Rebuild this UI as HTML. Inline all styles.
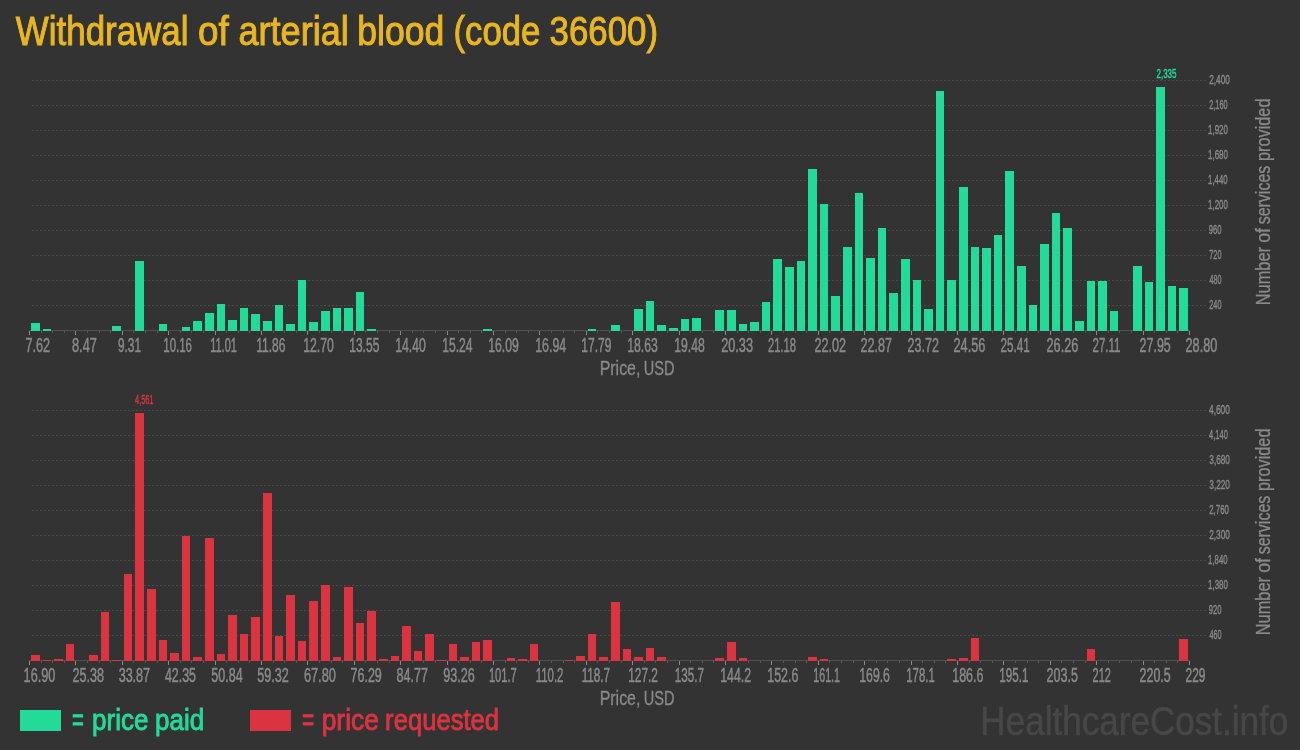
<!DOCTYPE html>
<html><head><meta charset="utf-8"><style>
html,body{margin:0;padding:0;background:#333333;}
body{width:1300px;height:750px;overflow:hidden;}
svg{display:block;will-change:transform;font-family:"Liberation Sans",sans-serif;}
</style></head><body>
<svg width="1300" height="750" viewBox="0 0 1300 750">
<rect width="1300" height="750" fill="#333333"/>
<text transform="translate(15.86,44.8) scale(0.8730,1)" font-size="40" fill="#e9b61f" stroke="#e9b61f" stroke-width="1.0">Withdrawal</text>
<text transform="translate(198.09,44.8) scale(0.9177,1)" font-size="40" fill="#e9b61f" stroke="#e9b61f" stroke-width="1.0">of</text>
<text transform="translate(238.51,44.8) scale(0.9017,1)" font-size="40" fill="#e9b61f" stroke="#e9b61f" stroke-width="1.0">arterial</text>
<text transform="translate(357.23,44.8) scale(0.8889,1)" font-size="40" fill="#e9b61f" stroke="#e9b61f" stroke-width="1.0">blood</text>
<text transform="translate(453.55,44.8) scale(0.8667,1)" font-size="40" fill="#e9b61f" stroke="#e9b61f" stroke-width="1.0">(code</text>
<text transform="translate(549.54,44.8) scale(0.8715,1)" font-size="40" fill="#e9b61f" stroke="#e9b61f" stroke-width="1.0">36600)</text>
<line x1="32" y1="80.5" x2="1206" y2="80.5" stroke="#4a4a4a" stroke-dasharray="2,2"/>
<line x1="32" y1="105.5" x2="1206" y2="105.5" stroke="#4a4a4a" stroke-dasharray="2,2"/>
<line x1="32" y1="130.5" x2="1206" y2="130.5" stroke="#4a4a4a" stroke-dasharray="2,2"/>
<line x1="32" y1="155.5" x2="1206" y2="155.5" stroke="#4a4a4a" stroke-dasharray="2,2"/>
<line x1="32" y1="180.5" x2="1206" y2="180.5" stroke="#4a4a4a" stroke-dasharray="2,2"/>
<line x1="32" y1="205.5" x2="1206" y2="205.5" stroke="#4a4a4a" stroke-dasharray="2,2"/>
<line x1="32" y1="230.5" x2="1206" y2="230.5" stroke="#4a4a4a" stroke-dasharray="2,2"/>
<line x1="32" y1="255.5" x2="1206" y2="255.5" stroke="#4a4a4a" stroke-dasharray="2,2"/>
<line x1="32" y1="280.5" x2="1206" y2="280.5" stroke="#4a4a4a" stroke-dasharray="2,2"/>
<line x1="32" y1="305.5" x2="1206" y2="305.5" stroke="#4a4a4a" stroke-dasharray="2,2"/>
<rect x="29" y="330" width="1161" height="1" fill="#505050"/>
<rect x="29" y="331" width="1" height="4" fill="#8a8a8a"/>
<rect x="41" y="331" width="1" height="2" fill="#5a5a5a"/>
<rect x="52" y="331" width="1" height="2" fill="#5a5a5a"/>
<rect x="64" y="331" width="1" height="2" fill="#5a5a5a"/>
<rect x="75" y="331" width="1" height="4" fill="#8a8a8a"/>
<rect x="87" y="331" width="1" height="2" fill="#5a5a5a"/>
<rect x="99" y="331" width="1" height="2" fill="#5a5a5a"/>
<rect x="110" y="331" width="1" height="2" fill="#5a5a5a"/>
<rect x="122" y="331" width="1" height="4" fill="#8a8a8a"/>
<rect x="133" y="331" width="1" height="2" fill="#5a5a5a"/>
<rect x="145" y="331" width="1" height="2" fill="#5a5a5a"/>
<rect x="157" y="331" width="1" height="2" fill="#5a5a5a"/>
<rect x="168" y="331" width="1" height="4" fill="#8a8a8a"/>
<rect x="180" y="331" width="1" height="2" fill="#5a5a5a"/>
<rect x="191" y="331" width="1" height="2" fill="#5a5a5a"/>
<rect x="203" y="331" width="1" height="2" fill="#5a5a5a"/>
<rect x="215" y="331" width="1" height="4" fill="#8a8a8a"/>
<rect x="226" y="331" width="1" height="2" fill="#5a5a5a"/>
<rect x="238" y="331" width="1" height="2" fill="#5a5a5a"/>
<rect x="249" y="331" width="1" height="2" fill="#5a5a5a"/>
<rect x="261" y="331" width="1" height="4" fill="#8a8a8a"/>
<rect x="273" y="331" width="1" height="2" fill="#5a5a5a"/>
<rect x="284" y="331" width="1" height="2" fill="#5a5a5a"/>
<rect x="296" y="331" width="1" height="2" fill="#5a5a5a"/>
<rect x="307" y="331" width="1" height="4" fill="#8a8a8a"/>
<rect x="319" y="331" width="1" height="2" fill="#5a5a5a"/>
<rect x="331" y="331" width="1" height="2" fill="#5a5a5a"/>
<rect x="342" y="331" width="1" height="2" fill="#5a5a5a"/>
<rect x="354" y="331" width="1" height="4" fill="#8a8a8a"/>
<rect x="365" y="331" width="1" height="2" fill="#5a5a5a"/>
<rect x="377" y="331" width="1" height="2" fill="#5a5a5a"/>
<rect x="389" y="331" width="1" height="2" fill="#5a5a5a"/>
<rect x="400" y="331" width="1" height="4" fill="#8a8a8a"/>
<rect x="412" y="331" width="1" height="2" fill="#5a5a5a"/>
<rect x="423" y="331" width="1" height="2" fill="#5a5a5a"/>
<rect x="435" y="331" width="1" height="2" fill="#5a5a5a"/>
<rect x="447" y="331" width="1" height="4" fill="#8a8a8a"/>
<rect x="458" y="331" width="1" height="2" fill="#5a5a5a"/>
<rect x="470" y="331" width="1" height="2" fill="#5a5a5a"/>
<rect x="481" y="331" width="1" height="2" fill="#5a5a5a"/>
<rect x="493" y="331" width="1" height="4" fill="#8a8a8a"/>
<rect x="505" y="331" width="1" height="2" fill="#5a5a5a"/>
<rect x="516" y="331" width="1" height="2" fill="#5a5a5a"/>
<rect x="528" y="331" width="1" height="2" fill="#5a5a5a"/>
<rect x="539" y="331" width="1" height="4" fill="#8a8a8a"/>
<rect x="551" y="331" width="1" height="2" fill="#5a5a5a"/>
<rect x="563" y="331" width="1" height="2" fill="#5a5a5a"/>
<rect x="574" y="331" width="1" height="2" fill="#5a5a5a"/>
<rect x="586" y="331" width="1" height="4" fill="#8a8a8a"/>
<rect x="597" y="331" width="1" height="2" fill="#5a5a5a"/>
<rect x="609" y="331" width="1" height="2" fill="#5a5a5a"/>
<rect x="621" y="331" width="1" height="2" fill="#5a5a5a"/>
<rect x="632" y="331" width="1" height="4" fill="#8a8a8a"/>
<rect x="644" y="331" width="1" height="2" fill="#5a5a5a"/>
<rect x="655" y="331" width="1" height="2" fill="#5a5a5a"/>
<rect x="667" y="331" width="1" height="2" fill="#5a5a5a"/>
<rect x="679" y="331" width="1" height="4" fill="#8a8a8a"/>
<rect x="690" y="331" width="1" height="2" fill="#5a5a5a"/>
<rect x="702" y="331" width="1" height="2" fill="#5a5a5a"/>
<rect x="713" y="331" width="1" height="2" fill="#5a5a5a"/>
<rect x="725" y="331" width="1" height="4" fill="#8a8a8a"/>
<rect x="737" y="331" width="1" height="2" fill="#5a5a5a"/>
<rect x="748" y="331" width="1" height="2" fill="#5a5a5a"/>
<rect x="760" y="331" width="1" height="2" fill="#5a5a5a"/>
<rect x="771" y="331" width="1" height="4" fill="#8a8a8a"/>
<rect x="783" y="331" width="1" height="2" fill="#5a5a5a"/>
<rect x="795" y="331" width="1" height="2" fill="#5a5a5a"/>
<rect x="806" y="331" width="1" height="2" fill="#5a5a5a"/>
<rect x="818" y="331" width="1" height="4" fill="#8a8a8a"/>
<rect x="829" y="331" width="1" height="2" fill="#5a5a5a"/>
<rect x="841" y="331" width="1" height="2" fill="#5a5a5a"/>
<rect x="853" y="331" width="1" height="2" fill="#5a5a5a"/>
<rect x="864" y="331" width="1" height="4" fill="#8a8a8a"/>
<rect x="876" y="331" width="1" height="2" fill="#5a5a5a"/>
<rect x="887" y="331" width="1" height="2" fill="#5a5a5a"/>
<rect x="899" y="331" width="1" height="2" fill="#5a5a5a"/>
<rect x="911" y="331" width="1" height="4" fill="#8a8a8a"/>
<rect x="922" y="331" width="1" height="2" fill="#5a5a5a"/>
<rect x="934" y="331" width="1" height="2" fill="#5a5a5a"/>
<rect x="945" y="331" width="1" height="2" fill="#5a5a5a"/>
<rect x="957" y="331" width="1" height="4" fill="#8a8a8a"/>
<rect x="969" y="331" width="1" height="2" fill="#5a5a5a"/>
<rect x="980" y="331" width="1" height="2" fill="#5a5a5a"/>
<rect x="992" y="331" width="1" height="2" fill="#5a5a5a"/>
<rect x="1003" y="331" width="1" height="4" fill="#8a8a8a"/>
<rect x="1015" y="331" width="1" height="2" fill="#5a5a5a"/>
<rect x="1027" y="331" width="1" height="2" fill="#5a5a5a"/>
<rect x="1038" y="331" width="1" height="2" fill="#5a5a5a"/>
<rect x="1050" y="331" width="1" height="4" fill="#8a8a8a"/>
<rect x="1061" y="331" width="1" height="2" fill="#5a5a5a"/>
<rect x="1073" y="331" width="1" height="2" fill="#5a5a5a"/>
<rect x="1085" y="331" width="1" height="2" fill="#5a5a5a"/>
<rect x="1096" y="331" width="1" height="4" fill="#8a8a8a"/>
<rect x="1108" y="331" width="1" height="2" fill="#5a5a5a"/>
<rect x="1119" y="331" width="1" height="2" fill="#5a5a5a"/>
<rect x="1131" y="331" width="1" height="2" fill="#5a5a5a"/>
<rect x="1143" y="331" width="1" height="4" fill="#8a8a8a"/>
<rect x="1154" y="331" width="1" height="2" fill="#5a5a5a"/>
<rect x="1166" y="331" width="1" height="2" fill="#5a5a5a"/>
<rect x="1177" y="331" width="1" height="2" fill="#5a5a5a"/>
<rect x="1189" y="331" width="1" height="4" fill="#8a8a8a"/>
<rect x="31" y="323" width="9" height="8" fill="#22db98"/>
<rect x="43" y="329" width="8" height="2" fill="#22db98"/>
<rect x="112" y="326" width="9" height="5" fill="#22db98"/>
<rect x="135" y="261" width="9" height="70" fill="#22db98"/>
<rect x="159" y="324" width="8" height="7" fill="#22db98"/>
<rect x="182" y="327" width="8" height="4" fill="#22db98"/>
<rect x="193" y="321" width="9" height="10" fill="#22db98"/>
<rect x="205" y="313" width="9" height="18" fill="#22db98"/>
<rect x="217" y="304" width="8" height="27" fill="#22db98"/>
<rect x="228" y="320" width="9" height="11" fill="#22db98"/>
<rect x="240" y="308" width="8" height="23" fill="#22db98"/>
<rect x="251" y="314" width="9" height="17" fill="#22db98"/>
<rect x="263" y="321" width="9" height="10" fill="#22db98"/>
<rect x="275" y="305" width="8" height="26" fill="#22db98"/>
<rect x="286" y="324" width="9" height="7" fill="#22db98"/>
<rect x="298" y="280" width="8" height="51" fill="#22db98"/>
<rect x="309" y="322" width="9" height="9" fill="#22db98"/>
<rect x="321" y="311" width="9" height="20" fill="#22db98"/>
<rect x="333" y="308" width="8" height="23" fill="#22db98"/>
<rect x="344" y="308" width="9" height="23" fill="#22db98"/>
<rect x="356" y="292" width="8" height="39" fill="#22db98"/>
<rect x="367" y="329" width="9" height="2" fill="#22db98"/>
<rect x="483" y="329" width="9" height="2" fill="#22db98"/>
<rect x="588" y="329" width="8" height="2" fill="#22db98"/>
<rect x="611" y="325" width="9" height="6" fill="#22db98"/>
<rect x="634" y="309" width="9" height="22" fill="#22db98"/>
<rect x="646" y="301" width="8" height="30" fill="#22db98"/>
<rect x="657" y="325" width="9" height="6" fill="#22db98"/>
<rect x="669" y="328" width="9" height="3" fill="#22db98"/>
<rect x="681" y="319" width="8" height="12" fill="#22db98"/>
<rect x="692" y="318" width="9" height="13" fill="#22db98"/>
<rect x="715" y="310" width="9" height="21" fill="#22db98"/>
<rect x="727" y="310" width="9" height="21" fill="#22db98"/>
<rect x="739" y="324" width="8" height="7" fill="#22db98"/>
<rect x="750" y="322" width="9" height="9" fill="#22db98"/>
<rect x="762" y="302" width="8" height="29" fill="#22db98"/>
<rect x="773" y="259" width="9" height="72" fill="#22db98"/>
<rect x="785" y="267" width="9" height="64" fill="#22db98"/>
<rect x="797" y="261" width="8" height="70" fill="#22db98"/>
<rect x="808" y="169" width="9" height="162" fill="#22db98"/>
<rect x="820" y="204" width="8" height="127" fill="#22db98"/>
<rect x="831" y="296" width="9" height="35" fill="#22db98"/>
<rect x="843" y="247" width="9" height="84" fill="#22db98"/>
<rect x="855" y="193" width="8" height="138" fill="#22db98"/>
<rect x="866" y="258" width="9" height="73" fill="#22db98"/>
<rect x="878" y="228" width="8" height="103" fill="#22db98"/>
<rect x="889" y="293" width="9" height="38" fill="#22db98"/>
<rect x="901" y="259" width="9" height="72" fill="#22db98"/>
<rect x="913" y="280" width="8" height="51" fill="#22db98"/>
<rect x="924" y="309" width="9" height="22" fill="#22db98"/>
<rect x="936" y="91" width="8" height="240" fill="#22db98"/>
<rect x="947" y="280" width="9" height="51" fill="#22db98"/>
<rect x="959" y="187" width="9" height="144" fill="#22db98"/>
<rect x="971" y="247" width="8" height="84" fill="#22db98"/>
<rect x="982" y="248" width="9" height="83" fill="#22db98"/>
<rect x="994" y="235" width="8" height="96" fill="#22db98"/>
<rect x="1005" y="171" width="9" height="160" fill="#22db98"/>
<rect x="1017" y="266" width="9" height="65" fill="#22db98"/>
<rect x="1029" y="305" width="8" height="26" fill="#22db98"/>
<rect x="1040" y="244" width="9" height="87" fill="#22db98"/>
<rect x="1052" y="213" width="8" height="118" fill="#22db98"/>
<rect x="1063" y="228" width="9" height="103" fill="#22db98"/>
<rect x="1075" y="321" width="9" height="10" fill="#22db98"/>
<rect x="1087" y="281" width="8" height="50" fill="#22db98"/>
<rect x="1098" y="281" width="9" height="50" fill="#22db98"/>
<rect x="1110" y="311" width="8" height="20" fill="#22db98"/>
<rect x="1133" y="266" width="9" height="65" fill="#22db98"/>
<rect x="1145" y="282" width="8" height="49" fill="#22db98"/>
<rect x="1156" y="87" width="9" height="244" fill="#22db98"/>
<rect x="1168" y="286" width="8" height="45" fill="#22db98"/>
<rect x="1179" y="288" width="9" height="43" fill="#22db98"/>
<text transform="translate(25.53,351.5) scale(0.6470,1)" font-size="19.5" fill="#8a8a8a" stroke="#8a8a8a" stroke-width="0.5">7.62</text>
<text transform="translate(71.99,351.5) scale(0.6562,1)" font-size="19.5" fill="#8a8a8a" stroke="#8a8a8a" stroke-width="0.5">8.47</text>
<text transform="translate(118.02,351.5) scale(0.6054,1)" font-size="19.5" fill="#8a8a8a" stroke="#8a8a8a" stroke-width="0.5">9.31</text>
<text transform="translate(163.29,351.5) scale(0.5871,1)" font-size="19.5" fill="#8a8a8a" stroke="#8a8a8a" stroke-width="0.5">10.16</text>
<text transform="translate(210.32,351.5) scale(0.5589,1)" font-size="19.5" fill="#8a8a8a" stroke="#8a8a8a" stroke-width="0.5">11.01</text>
<text transform="translate(256.25,351.5) scale(0.6148,1)" font-size="19.5" fill="#8a8a8a" stroke="#8a8a8a" stroke-width="0.5">11.86</text>
<text transform="translate(303.24,351.5) scale(0.6284,1)" font-size="19.5" fill="#8a8a8a" stroke="#8a8a8a" stroke-width="0.5">12.70</text>
<text transform="translate(349.25,351.5) scale(0.6169,1)" font-size="19.5" fill="#8a8a8a" stroke="#8a8a8a" stroke-width="0.5">13.55</text>
<text transform="translate(395.24,351.5) scale(0.6284,1)" font-size="19.5" fill="#8a8a8a" stroke="#8a8a8a" stroke-width="0.5">14.40</text>
<text transform="translate(442.24,351.5) scale(0.6228,1)" font-size="19.5" fill="#8a8a8a" stroke="#8a8a8a" stroke-width="0.5">15.24</text>
<text transform="translate(488.24,351.5) scale(0.6267,1)" font-size="19.5" fill="#8a8a8a" stroke="#8a8a8a" stroke-width="0.5">16.09</text>
<text transform="translate(535.23,351.5) scale(0.6356,1)" font-size="19.5" fill="#8a8a8a" stroke="#8a8a8a" stroke-width="0.5">16.94</text>
<text transform="translate(581.25,351.5) scale(0.6182,1)" font-size="19.5" fill="#8a8a8a" stroke="#8a8a8a" stroke-width="0.5">17.79</text>
<text transform="translate(627.24,351.5) scale(0.6254,1)" font-size="19.5" fill="#8a8a8a" stroke="#8a8a8a" stroke-width="0.5">18.63</text>
<text transform="translate(674.24,351.5) scale(0.6254,1)" font-size="19.5" fill="#8a8a8a" stroke="#8a8a8a" stroke-width="0.5">19.48</text>
<text transform="translate(721.13,351.5) scale(0.6527,1)" font-size="19.5" fill="#8a8a8a" stroke="#8a8a8a" stroke-width="0.5">20.33</text>
<text transform="translate(767.98,351.5) scale(0.5727,1)" font-size="19.5" fill="#8a8a8a" stroke="#8a8a8a" stroke-width="0.5">21.18</text>
<text transform="translate(814.53,351.5) scale(0.6469,1)" font-size="19.5" fill="#8a8a8a" stroke="#8a8a8a" stroke-width="0.5">22.02</text>
<text transform="translate(860.53,351.5) scale(0.6469,1)" font-size="19.5" fill="#8a8a8a" stroke="#8a8a8a" stroke-width="0.5">22.87</text>
<text transform="translate(907.53,351.5) scale(0.6427,1)" font-size="19.5" fill="#8a8a8a" stroke="#8a8a8a" stroke-width="0.5">23.72</text>
<text transform="translate(953.53,351.5) scale(0.6527,1)" font-size="19.5" fill="#8a8a8a" stroke="#8a8a8a" stroke-width="0.5">24.56</text>
<text transform="translate(1000.57,351.5) scale(0.5992,1)" font-size="19.5" fill="#8a8a8a" stroke="#8a8a8a" stroke-width="0.5">25.41</text>
<text transform="translate(1046.53,351.5) scale(0.6527,1)" font-size="19.5" fill="#8a8a8a" stroke="#8a8a8a" stroke-width="0.5">26.26</text>
<text transform="translate(1092.57,351.5) scale(0.5878,1)" font-size="19.5" fill="#8a8a8a" stroke="#8a8a8a" stroke-width="0.5">27.11</text>
<text transform="translate(1139.54,351.5) scale(0.6401,1)" font-size="19.5" fill="#8a8a8a" stroke="#8a8a8a" stroke-width="0.5">27.95</text>
<text transform="translate(1185.53,351.5) scale(0.6514,1)" font-size="19.5" fill="#8a8a8a" stroke="#8a8a8a" stroke-width="0.5">28.80</text>
<text transform="translate(1209.21,84.3) scale(0.6483,1)" font-size="12.8" fill="#8a8a8a" stroke="#8a8a8a" stroke-width="0.4">2,400</text>
<text transform="translate(1209.25,109.3) scale(0.5717,1)" font-size="12.8" fill="#8a8a8a" stroke="#8a8a8a" stroke-width="0.4">2,160</text>
<text transform="translate(1208.03,134.3) scale(0.6195,1)" font-size="12.8" fill="#8a8a8a" stroke="#8a8a8a" stroke-width="0.4">1,920</text>
<text transform="translate(1208.03,159.3) scale(0.6195,1)" font-size="12.8" fill="#8a8a8a" stroke="#8a8a8a" stroke-width="0.4">1,680</text>
<text transform="translate(1208.04,184.3) scale(0.6098,1)" font-size="12.8" fill="#8a8a8a" stroke="#8a8a8a" stroke-width="0.4">1,440</text>
<text transform="translate(1208.03,209.3) scale(0.6195,1)" font-size="12.8" fill="#8a8a8a" stroke="#8a8a8a" stroke-width="0.4">1,200</text>
<text transform="translate(1208.78,234.3) scale(0.5945,1)" font-size="12.8" fill="#8a8a8a" stroke="#8a8a8a" stroke-width="0.4">960</text>
<text transform="translate(1209.25,259.3) scale(0.5721,1)" font-size="12.8" fill="#8a8a8a" stroke="#8a8a8a" stroke-width="0.4">720</text>
<text transform="translate(1209.47,284.3) scale(0.5617,1)" font-size="12.8" fill="#8a8a8a" stroke="#8a8a8a" stroke-width="0.4">480</text>
<text transform="translate(1209.25,309.3) scale(0.5721,1)" font-size="12.8" fill="#8a8a8a" stroke="#8a8a8a" stroke-width="0.4">240</text>
<line x1="32" y1="410.5" x2="1206" y2="410.5" stroke="#4a4a4a" stroke-dasharray="2,2"/>
<line x1="32" y1="435.5" x2="1206" y2="435.5" stroke="#4a4a4a" stroke-dasharray="2,2"/>
<line x1="32" y1="460.5" x2="1206" y2="460.5" stroke="#4a4a4a" stroke-dasharray="2,2"/>
<line x1="32" y1="485.5" x2="1206" y2="485.5" stroke="#4a4a4a" stroke-dasharray="2,2"/>
<line x1="32" y1="510.5" x2="1206" y2="510.5" stroke="#4a4a4a" stroke-dasharray="2,2"/>
<line x1="32" y1="535.5" x2="1206" y2="535.5" stroke="#4a4a4a" stroke-dasharray="2,2"/>
<line x1="32" y1="560.5" x2="1206" y2="560.5" stroke="#4a4a4a" stroke-dasharray="2,2"/>
<line x1="32" y1="585.5" x2="1206" y2="585.5" stroke="#4a4a4a" stroke-dasharray="2,2"/>
<line x1="32" y1="610.5" x2="1206" y2="610.5" stroke="#4a4a4a" stroke-dasharray="2,2"/>
<line x1="32" y1="635.5" x2="1206" y2="635.5" stroke="#4a4a4a" stroke-dasharray="2,2"/>
<rect x="29" y="660" width="1161" height="1" fill="#505050"/>
<rect x="29" y="661" width="1" height="4" fill="#8a8a8a"/>
<rect x="41" y="661" width="1" height="2" fill="#5a5a5a"/>
<rect x="52" y="661" width="1" height="2" fill="#5a5a5a"/>
<rect x="64" y="661" width="1" height="2" fill="#5a5a5a"/>
<rect x="75" y="661" width="1" height="4" fill="#8a8a8a"/>
<rect x="87" y="661" width="1" height="2" fill="#5a5a5a"/>
<rect x="99" y="661" width="1" height="2" fill="#5a5a5a"/>
<rect x="110" y="661" width="1" height="2" fill="#5a5a5a"/>
<rect x="122" y="661" width="1" height="4" fill="#8a8a8a"/>
<rect x="133" y="661" width="1" height="2" fill="#5a5a5a"/>
<rect x="145" y="661" width="1" height="2" fill="#5a5a5a"/>
<rect x="157" y="661" width="1" height="2" fill="#5a5a5a"/>
<rect x="168" y="661" width="1" height="4" fill="#8a8a8a"/>
<rect x="180" y="661" width="1" height="2" fill="#5a5a5a"/>
<rect x="191" y="661" width="1" height="2" fill="#5a5a5a"/>
<rect x="203" y="661" width="1" height="2" fill="#5a5a5a"/>
<rect x="215" y="661" width="1" height="4" fill="#8a8a8a"/>
<rect x="226" y="661" width="1" height="2" fill="#5a5a5a"/>
<rect x="238" y="661" width="1" height="2" fill="#5a5a5a"/>
<rect x="249" y="661" width="1" height="2" fill="#5a5a5a"/>
<rect x="261" y="661" width="1" height="4" fill="#8a8a8a"/>
<rect x="273" y="661" width="1" height="2" fill="#5a5a5a"/>
<rect x="284" y="661" width="1" height="2" fill="#5a5a5a"/>
<rect x="296" y="661" width="1" height="2" fill="#5a5a5a"/>
<rect x="307" y="661" width="1" height="4" fill="#8a8a8a"/>
<rect x="319" y="661" width="1" height="2" fill="#5a5a5a"/>
<rect x="331" y="661" width="1" height="2" fill="#5a5a5a"/>
<rect x="342" y="661" width="1" height="2" fill="#5a5a5a"/>
<rect x="354" y="661" width="1" height="4" fill="#8a8a8a"/>
<rect x="365" y="661" width="1" height="2" fill="#5a5a5a"/>
<rect x="377" y="661" width="1" height="2" fill="#5a5a5a"/>
<rect x="389" y="661" width="1" height="2" fill="#5a5a5a"/>
<rect x="400" y="661" width="1" height="4" fill="#8a8a8a"/>
<rect x="412" y="661" width="1" height="2" fill="#5a5a5a"/>
<rect x="423" y="661" width="1" height="2" fill="#5a5a5a"/>
<rect x="435" y="661" width="1" height="2" fill="#5a5a5a"/>
<rect x="447" y="661" width="1" height="4" fill="#8a8a8a"/>
<rect x="458" y="661" width="1" height="2" fill="#5a5a5a"/>
<rect x="470" y="661" width="1" height="2" fill="#5a5a5a"/>
<rect x="481" y="661" width="1" height="2" fill="#5a5a5a"/>
<rect x="493" y="661" width="1" height="4" fill="#8a8a8a"/>
<rect x="505" y="661" width="1" height="2" fill="#5a5a5a"/>
<rect x="516" y="661" width="1" height="2" fill="#5a5a5a"/>
<rect x="528" y="661" width="1" height="2" fill="#5a5a5a"/>
<rect x="539" y="661" width="1" height="4" fill="#8a8a8a"/>
<rect x="551" y="661" width="1" height="2" fill="#5a5a5a"/>
<rect x="563" y="661" width="1" height="2" fill="#5a5a5a"/>
<rect x="574" y="661" width="1" height="2" fill="#5a5a5a"/>
<rect x="586" y="661" width="1" height="4" fill="#8a8a8a"/>
<rect x="597" y="661" width="1" height="2" fill="#5a5a5a"/>
<rect x="609" y="661" width="1" height="2" fill="#5a5a5a"/>
<rect x="621" y="661" width="1" height="2" fill="#5a5a5a"/>
<rect x="632" y="661" width="1" height="4" fill="#8a8a8a"/>
<rect x="644" y="661" width="1" height="2" fill="#5a5a5a"/>
<rect x="655" y="661" width="1" height="2" fill="#5a5a5a"/>
<rect x="667" y="661" width="1" height="2" fill="#5a5a5a"/>
<rect x="679" y="661" width="1" height="4" fill="#8a8a8a"/>
<rect x="690" y="661" width="1" height="2" fill="#5a5a5a"/>
<rect x="702" y="661" width="1" height="2" fill="#5a5a5a"/>
<rect x="713" y="661" width="1" height="2" fill="#5a5a5a"/>
<rect x="725" y="661" width="1" height="4" fill="#8a8a8a"/>
<rect x="737" y="661" width="1" height="2" fill="#5a5a5a"/>
<rect x="748" y="661" width="1" height="2" fill="#5a5a5a"/>
<rect x="760" y="661" width="1" height="2" fill="#5a5a5a"/>
<rect x="771" y="661" width="1" height="4" fill="#8a8a8a"/>
<rect x="783" y="661" width="1" height="2" fill="#5a5a5a"/>
<rect x="795" y="661" width="1" height="2" fill="#5a5a5a"/>
<rect x="806" y="661" width="1" height="2" fill="#5a5a5a"/>
<rect x="818" y="661" width="1" height="4" fill="#8a8a8a"/>
<rect x="829" y="661" width="1" height="2" fill="#5a5a5a"/>
<rect x="841" y="661" width="1" height="2" fill="#5a5a5a"/>
<rect x="853" y="661" width="1" height="2" fill="#5a5a5a"/>
<rect x="864" y="661" width="1" height="4" fill="#8a8a8a"/>
<rect x="876" y="661" width="1" height="2" fill="#5a5a5a"/>
<rect x="887" y="661" width="1" height="2" fill="#5a5a5a"/>
<rect x="899" y="661" width="1" height="2" fill="#5a5a5a"/>
<rect x="911" y="661" width="1" height="4" fill="#8a8a8a"/>
<rect x="922" y="661" width="1" height="2" fill="#5a5a5a"/>
<rect x="934" y="661" width="1" height="2" fill="#5a5a5a"/>
<rect x="945" y="661" width="1" height="2" fill="#5a5a5a"/>
<rect x="957" y="661" width="1" height="4" fill="#8a8a8a"/>
<rect x="969" y="661" width="1" height="2" fill="#5a5a5a"/>
<rect x="980" y="661" width="1" height="2" fill="#5a5a5a"/>
<rect x="992" y="661" width="1" height="2" fill="#5a5a5a"/>
<rect x="1003" y="661" width="1" height="4" fill="#8a8a8a"/>
<rect x="1015" y="661" width="1" height="2" fill="#5a5a5a"/>
<rect x="1027" y="661" width="1" height="2" fill="#5a5a5a"/>
<rect x="1038" y="661" width="1" height="2" fill="#5a5a5a"/>
<rect x="1050" y="661" width="1" height="4" fill="#8a8a8a"/>
<rect x="1061" y="661" width="1" height="2" fill="#5a5a5a"/>
<rect x="1073" y="661" width="1" height="2" fill="#5a5a5a"/>
<rect x="1085" y="661" width="1" height="2" fill="#5a5a5a"/>
<rect x="1096" y="661" width="1" height="4" fill="#8a8a8a"/>
<rect x="1108" y="661" width="1" height="2" fill="#5a5a5a"/>
<rect x="1119" y="661" width="1" height="2" fill="#5a5a5a"/>
<rect x="1131" y="661" width="1" height="2" fill="#5a5a5a"/>
<rect x="1143" y="661" width="1" height="4" fill="#8a8a8a"/>
<rect x="1154" y="661" width="1" height="2" fill="#5a5a5a"/>
<rect x="1166" y="661" width="1" height="2" fill="#5a5a5a"/>
<rect x="1177" y="661" width="1" height="2" fill="#5a5a5a"/>
<rect x="1189" y="661" width="1" height="4" fill="#8a8a8a"/>
<rect x="31" y="655" width="9" height="6" fill="#db3340"/>
<rect x="43" y="660" width="8" height="1" fill="#db3340"/>
<rect x="54" y="659" width="9" height="2" fill="#db3340"/>
<rect x="66" y="644" width="8" height="17" fill="#db3340"/>
<rect x="89" y="655" width="9" height="6" fill="#db3340"/>
<rect x="101" y="612" width="8" height="49" fill="#db3340"/>
<rect x="112" y="660" width="9" height="1" fill="#db3340"/>
<rect x="124" y="574" width="8" height="87" fill="#db3340"/>
<rect x="135" y="413" width="9" height="248" fill="#db3340"/>
<rect x="147" y="589" width="9" height="72" fill="#db3340"/>
<rect x="159" y="640" width="8" height="21" fill="#db3340"/>
<rect x="170" y="653" width="9" height="8" fill="#db3340"/>
<rect x="182" y="536" width="8" height="125" fill="#db3340"/>
<rect x="193" y="657" width="9" height="4" fill="#db3340"/>
<rect x="205" y="538" width="9" height="123" fill="#db3340"/>
<rect x="217" y="654" width="8" height="7" fill="#db3340"/>
<rect x="228" y="615" width="9" height="46" fill="#db3340"/>
<rect x="240" y="634" width="8" height="27" fill="#db3340"/>
<rect x="251" y="617" width="9" height="44" fill="#db3340"/>
<rect x="263" y="493" width="9" height="168" fill="#db3340"/>
<rect x="275" y="636" width="8" height="25" fill="#db3340"/>
<rect x="286" y="595" width="9" height="66" fill="#db3340"/>
<rect x="298" y="641" width="8" height="20" fill="#db3340"/>
<rect x="309" y="601" width="9" height="60" fill="#db3340"/>
<rect x="321" y="585" width="9" height="76" fill="#db3340"/>
<rect x="333" y="657" width="8" height="4" fill="#db3340"/>
<rect x="344" y="587" width="9" height="74" fill="#db3340"/>
<rect x="356" y="623" width="8" height="38" fill="#db3340"/>
<rect x="367" y="611" width="9" height="50" fill="#db3340"/>
<rect x="379" y="659" width="9" height="2" fill="#db3340"/>
<rect x="391" y="656" width="8" height="5" fill="#db3340"/>
<rect x="402" y="626" width="9" height="35" fill="#db3340"/>
<rect x="414" y="651" width="8" height="10" fill="#db3340"/>
<rect x="425" y="634" width="9" height="27" fill="#db3340"/>
<rect x="437" y="660" width="9" height="1" fill="#db3340"/>
<rect x="449" y="644" width="8" height="17" fill="#db3340"/>
<rect x="460" y="657" width="9" height="4" fill="#db3340"/>
<rect x="472" y="642" width="8" height="19" fill="#db3340"/>
<rect x="483" y="640" width="9" height="21" fill="#db3340"/>
<rect x="507" y="658" width="8" height="3" fill="#db3340"/>
<rect x="518" y="659" width="9" height="2" fill="#db3340"/>
<rect x="530" y="644" width="8" height="17" fill="#db3340"/>
<rect x="565" y="660" width="8" height="1" fill="#db3340"/>
<rect x="576" y="656" width="9" height="5" fill="#db3340"/>
<rect x="588" y="634" width="8" height="27" fill="#db3340"/>
<rect x="599" y="657" width="9" height="4" fill="#db3340"/>
<rect x="611" y="602" width="9" height="59" fill="#db3340"/>
<rect x="623" y="649" width="8" height="12" fill="#db3340"/>
<rect x="634" y="657" width="9" height="4" fill="#db3340"/>
<rect x="646" y="648" width="8" height="13" fill="#db3340"/>
<rect x="657" y="657" width="9" height="4" fill="#db3340"/>
<rect x="715" y="658" width="9" height="3" fill="#db3340"/>
<rect x="727" y="642" width="9" height="19" fill="#db3340"/>
<rect x="739" y="658" width="8" height="3" fill="#db3340"/>
<rect x="808" y="657" width="9" height="4" fill="#db3340"/>
<rect x="820" y="659" width="8" height="2" fill="#db3340"/>
<rect x="947" y="659" width="9" height="2" fill="#db3340"/>
<rect x="959" y="658" width="9" height="3" fill="#db3340"/>
<rect x="971" y="638" width="8" height="23" fill="#db3340"/>
<rect x="1087" y="649" width="8" height="12" fill="#db3340"/>
<rect x="1179" y="639" width="9" height="22" fill="#db3340"/>
<text transform="translate(23.61,681.5) scale(0.6496,1)" font-size="19.5" fill="#8a8a8a" stroke="#8a8a8a" stroke-width="0.5">16.90</text>
<text transform="translate(72.53,681.5) scale(0.6443,1)" font-size="19.5" fill="#8a8a8a" stroke="#8a8a8a" stroke-width="0.5">25.38</text>
<text transform="translate(118.66,681.5) scale(0.6443,1)" font-size="19.5" fill="#8a8a8a" stroke="#8a8a8a" stroke-width="0.5">33.87</text>
<text transform="translate(164.91,681.5) scale(0.6364,1)" font-size="19.5" fill="#8a8a8a" stroke="#8a8a8a" stroke-width="0.5">42.35</text>
<text transform="translate(211.26,681.5) scale(0.6432,1)" font-size="19.5" fill="#8a8a8a" stroke="#8a8a8a" stroke-width="0.5">50.84</text>
<text transform="translate(257.26,681.5) scale(0.6485,1)" font-size="19.5" fill="#8a8a8a" stroke="#8a8a8a" stroke-width="0.5">59.32</text>
<text transform="translate(303.92,681.5) scale(0.6556,1)" font-size="19.5" fill="#8a8a8a" stroke="#8a8a8a" stroke-width="0.5">67.80</text>
<text transform="translate(350.53,681.5) scale(0.6414,1)" font-size="19.5" fill="#8a8a8a" stroke="#8a8a8a" stroke-width="0.5">76.29</text>
<text transform="translate(396.60,681.5) scale(0.6414,1)" font-size="19.5" fill="#8a8a8a" stroke="#8a8a8a" stroke-width="0.5">84.77</text>
<text transform="translate(443.19,681.5) scale(0.6472,1)" font-size="19.5" fill="#8a8a8a" stroke="#8a8a8a" stroke-width="0.5">93.26</text>
<text transform="translate(488.91,681.5) scale(0.5725,1)" font-size="19.5" fill="#8a8a8a" stroke="#8a8a8a" stroke-width="0.5">101.7</text>
<text transform="translate(535.69,681.5) scale(0.5865,1)" font-size="19.5" fill="#8a8a8a" stroke="#8a8a8a" stroke-width="0.5">110.2</text>
<text transform="translate(581.67,681.5) scale(0.5998,1)" font-size="19.5" fill="#8a8a8a" stroke="#8a8a8a" stroke-width="0.5">118.7</text>
<text transform="translate(628.26,681.5) scale(0.6067,1)" font-size="19.5" fill="#8a8a8a" stroke="#8a8a8a" stroke-width="0.5">127.2</text>
<text transform="translate(674.87,681.5) scale(0.5981,1)" font-size="19.5" fill="#8a8a8a" stroke="#8a8a8a" stroke-width="0.5">135.7</text>
<text transform="translate(720.23,681.5) scale(0.6323,1)" font-size="19.5" fill="#8a8a8a" stroke="#8a8a8a" stroke-width="0.5">144.2</text>
<text transform="translate(767.23,681.5) scale(0.6382,1)" font-size="19.5" fill="#8a8a8a" stroke="#8a8a8a" stroke-width="0.5">152.6</text>
<text transform="translate(813.34,681.5) scale(0.5457,1)" font-size="19.5" fill="#8a8a8a" stroke="#8a8a8a" stroke-width="0.5">161.1</text>
<text transform="translate(859.24,681.5) scale(0.6297,1)" font-size="19.5" fill="#8a8a8a" stroke="#8a8a8a" stroke-width="0.5">169.6</text>
<text transform="translate(906.29,681.5) scale(0.5841,1)" font-size="19.5" fill="#8a8a8a" stroke="#8a8a8a" stroke-width="0.5">178.1</text>
<text transform="translate(952.23,681.5) scale(0.6382,1)" font-size="19.5" fill="#8a8a8a" stroke="#8a8a8a" stroke-width="0.5">186.6</text>
<text transform="translate(999.28,681.5) scale(0.5969,1)" font-size="19.5" fill="#8a8a8a" stroke="#8a8a8a" stroke-width="0.5">195.1</text>
<text transform="translate(1046.53,681.5) scale(0.6443,1)" font-size="19.5" fill="#8a8a8a" stroke="#8a8a8a" stroke-width="0.5">203.5</text>
<text transform="translate(1092.59,681.5) scale(0.5610,1)" font-size="19.5" fill="#8a8a8a" stroke="#8a8a8a" stroke-width="0.5">212</text>
<text transform="translate(1139.54,681.5) scale(0.6401,1)" font-size="19.5" fill="#8a8a8a" stroke="#8a8a8a" stroke-width="0.5">220.5</text>
<text transform="translate(1185.56,681.5) scale(0.6106,1)" font-size="19.5" fill="#8a8a8a" stroke="#8a8a8a" stroke-width="0.5">229</text>
<text transform="translate(1208.96,414.3) scale(0.6562,1)" font-size="12.8" fill="#8a8a8a" stroke="#8a8a8a" stroke-width="0.4">4,600</text>
<text transform="translate(1208.97,439.3) scale(0.5900,1)" font-size="12.8" fill="#8a8a8a" stroke="#8a8a8a" stroke-width="0.4">4,140</text>
<text transform="translate(1209.30,464.3) scale(0.6457,1)" font-size="12.8" fill="#8a8a8a" stroke="#8a8a8a" stroke-width="0.4">3,680</text>
<text transform="translate(1209.30,489.3) scale(0.6457,1)" font-size="12.8" fill="#8a8a8a" stroke="#8a8a8a" stroke-width="0.4">3,220</text>
<text transform="translate(1209.23,514.3) scale(0.6132,1)" font-size="12.8" fill="#8a8a8a" stroke="#8a8a8a" stroke-width="0.4">2,760</text>
<text transform="translate(1209.21,539.3) scale(0.6483,1)" font-size="12.8" fill="#8a8a8a" stroke="#8a8a8a" stroke-width="0.4">2,300</text>
<text transform="translate(1208.04,564.3) scale(0.6098,1)" font-size="12.8" fill="#8a8a8a" stroke="#8a8a8a" stroke-width="0.4">1,840</text>
<text transform="translate(1208.03,589.3) scale(0.6195,1)" font-size="12.8" fill="#8a8a8a" stroke="#8a8a8a" stroke-width="0.4">1,380</text>
<text transform="translate(1208.78,614.3) scale(0.5945,1)" font-size="12.8" fill="#8a8a8a" stroke="#8a8a8a" stroke-width="0.4">920</text>
<text transform="translate(1209.47,639.3) scale(0.5617,1)" font-size="12.8" fill="#8a8a8a" stroke="#8a8a8a" stroke-width="0.4">460</text>
<text transform="translate(1156.42,78) scale(0.6304,1)" font-size="12.8" fill="#22db98" stroke="#22db98" stroke-width="0.4">2,335</text>
<text transform="translate(135.07,404) scale(0.5734,1)" font-size="12.8" fill="#db3340" stroke="#db3340" stroke-width="0.4">4,561</text>
<text transform="translate(599.64,375.2) scale(0.7983,1)" font-size="20" fill="#8a8a8a" stroke="#8a8a8a" stroke-width="0.3">Price,</text>
<text transform="translate(643.82,375.2) scale(0.7282,1)" font-size="20" fill="#8a8a8a" stroke="#8a8a8a" stroke-width="0.3">USD</text>
<text transform="translate(1270,305.29) rotate(-90) scale(0.8411,1)" font-size="19.5" fill="#8a8a8a" stroke="#8a8a8a" stroke-width="0.3">Number</text>
<text transform="translate(1270,242.87) rotate(-90) scale(0.9112,1)" font-size="19.5" fill="#8a8a8a" stroke="#8a8a8a" stroke-width="0.3">of</text>
<text transform="translate(1270,224.36) rotate(-90) scale(0.8201,1)" font-size="19.5" fill="#8a8a8a" stroke="#8a8a8a" stroke-width="0.3">services</text>
<text transform="translate(1270,161.04) rotate(-90) scale(0.8367,1)" font-size="19.5" fill="#8a8a8a" stroke="#8a8a8a" stroke-width="0.3">provided</text>
<text transform="translate(599.64,705.2) scale(0.7983,1)" font-size="20" fill="#8a8a8a" stroke="#8a8a8a" stroke-width="0.3">Price,</text>
<text transform="translate(643.82,705.2) scale(0.7282,1)" font-size="20" fill="#8a8a8a" stroke="#8a8a8a" stroke-width="0.3">USD</text>
<text transform="translate(1270,635.29) rotate(-90) scale(0.8411,1)" font-size="19.5" fill="#8a8a8a" stroke="#8a8a8a" stroke-width="0.3">Number</text>
<text transform="translate(1270,572.87) rotate(-90) scale(0.9112,1)" font-size="19.5" fill="#8a8a8a" stroke="#8a8a8a" stroke-width="0.3">of</text>
<text transform="translate(1270,554.36) rotate(-90) scale(0.8201,1)" font-size="19.5" fill="#8a8a8a" stroke="#8a8a8a" stroke-width="0.3">services</text>
<text transform="translate(1270,491.04) rotate(-90) scale(0.8367,1)" font-size="19.5" fill="#8a8a8a" stroke="#8a8a8a" stroke-width="0.3">provided</text>
<rect x="20" y="710" width="41" height="21" fill="#22db98"/>
<text transform="translate(71.94,729.8) scale(0.6568,1)" font-size="31" fill="#22db98" stroke="#22db98" stroke-width="0.8">=</text>
<text transform="translate(92.10,729.6) scale(0.8826,1)" font-size="29.5" fill="#22db98" stroke="#22db98" stroke-width="0.9">price</text>
<text transform="translate(155.01,729.6) scale(0.8803,1)" font-size="29.5" fill="#22db98" stroke="#22db98" stroke-width="0.9">paid</text>
<rect x="250" y="710" width="41" height="21" fill="#db3340"/>
<text transform="translate(301.92,729.8) scale(0.6757,1)" font-size="31" fill="#db3340" stroke="#db3340" stroke-width="0.8">=</text>
<text transform="translate(321.69,729.6) scale(0.8940,1)" font-size="29.5" fill="#db3340" stroke="#db3340" stroke-width="0.9">price</text>
<text transform="translate(385.12,729.6) scale(0.8690,1)" font-size="29.5" fill="#db3340" stroke="#db3340" stroke-width="0.9">requested</text>
<text transform="translate(980.35,735) scale(0.8453,1)" font-size="41.5" fill="#474747" stroke="#474747" stroke-width="0.6">HealthcareCost.info</text>
</svg>
</body></html>
